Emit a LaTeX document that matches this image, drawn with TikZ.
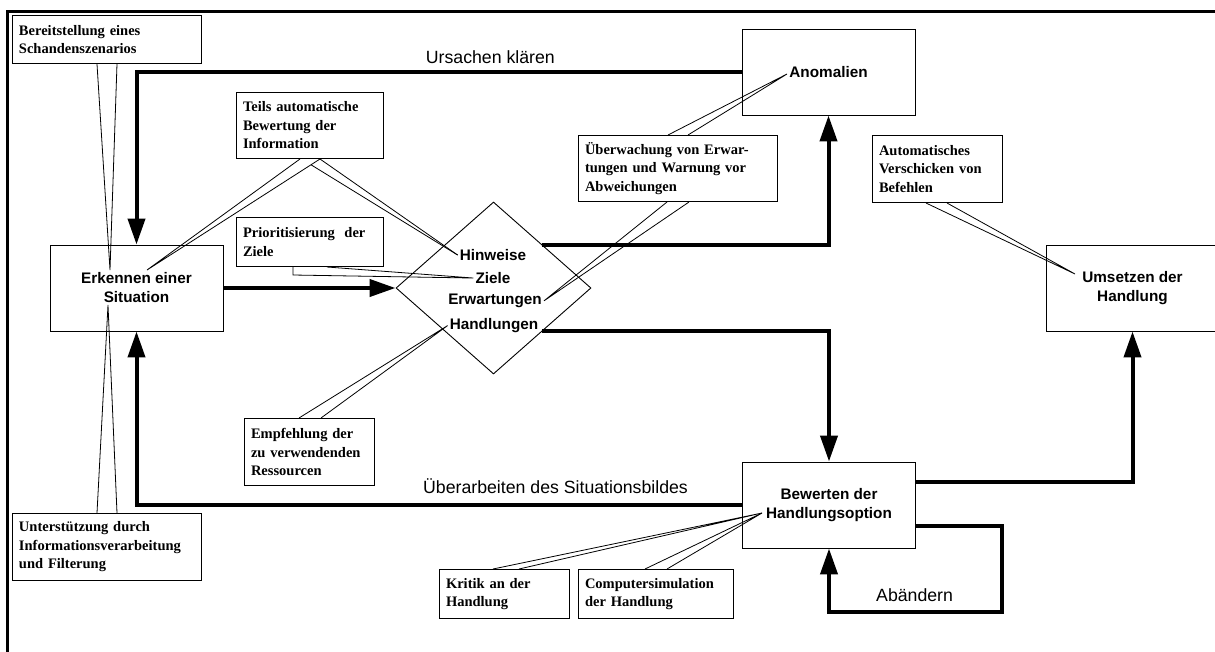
\documentclass[tikz,border=0pt]{standalone}
\usepackage{fontspec}
\setmainfont{Liberation Serif}
\newfontfamily\arialfam{Liberation Sans}
\usetikzlibrary{arrows.meta,shapes.geometric,calc}
% text styles: serif notes, sans stage titles, sans flow labels
\newcommand\clfont{\fontsize{14.5pt}{18.5pt}\selectfont\bfseries\hyphenpenalty=10000\exhyphenpenalty=10000}
\newcommand\bxfont{\arialfam\fontsize{15.3pt}{19pt}\selectfont\bfseries}
\newcommand\lbfont{\arialfam\fontsize{17.7pt}{21pt}\selectfont}
\begin{document}
\begin{tikzpicture}[x=1pt,y=-1pt,
  flow/.style={line width=4pt,-{Triangle[length=26pt,width=17pt]}},
  stage/.style={draw,line width=0.9pt,fill=white,minimum width=173pt,minimum height=86pt,inner sep=0pt,align=center,font=\bxfont},
  note/.style={draw,line width=1pt,fill=white,anchor=north west,inner xsep=6.5pt,inner ysep=0pt,align=left,font=\clfont},
  ptr/.style={line width=0.8pt},
  cue/.style={font=\bxfont,inner sep=2pt,anchor=base},
  flowlabel/.style={font=\lbfont,inner sep=0pt}]
\clip (0,0) rectangle (1215,651);
\fill[white] (0,0) rectangle (1215,651);

% outer frame
\draw[line width=3pt] (7.5,11.5) rectangle (1240,680);

% stages
\node[stage] (erk) at (136.5,288) {Erkennen einer\\Situation};
\node[stage] (ano) at (828.5,72) {Anomalien};
\node[stage] (bew) at (829,505) {Bewerten der\\Handlungsoption};
\node[stage] (ums) at (1132.5,288) {Umsetzen der\\Handlung};
\node[diamond,draw,line width=0.9pt,minimum width=195pt,minimum height=172pt,inner sep=0pt] (dia) at (493.5,288) {};

% contents of the diamond
\node[cue] (hin) at (493,260.5) {Hinweise};
\node[cue] (zie) at (493,283.5) {Ziele};
\node[cue] (erw) at (495,304.5) {Erwartungen};
\node[cue] (hdl) at (494,329.5) {Handlungen};

% flows
\draw[flow] (erk.east) -- (dia.west);
\draw[flow] ($(dia.north)!.5!(dia.east)$) -| (ano.south);
\draw[flow] ($(dia.east)!.5!(dia.south)$) -| (bew.north);
\draw[flow] (ano.west) -| (erk.north);
\draw[flow] (bew.west) -| (erk.south);
\draw[flow] ([yshift=23pt]bew.east) -| (ums.south);
\coordinate (loopcorner) at (1002,612);
\draw[flow] ([yshift=-21pt]bew.east) -| (loopcorner) -| (bew.south);

% flow labels
\node[flowlabel,anchor=base east] (lblUrs) at (555,63) {Ursachen klären};
\node[flowlabel,anchor=base west] (lblUeb) at (423,493) {Überarbeiten des Situationsbildes};
\node[flowlabel,anchor=base west] (lblAb) at (876,601) {Abändern};

% notes
\node[note,text width=176pt,minimum height=48pt] (nBer) at (12,15) {Bereitstellung eines\\Schandenszenarios};
\node[note,text width=134pt,minimum height=66pt] (nTei) at (236,92) {Teils automatische\\Bewertung der\\Information};
\node[note,text width=134pt,minimum height=49pt] (nPri) at (236,217) {Prioritisierung\ \ der\\Ziele};
\node[note,text width=186pt,minimum height=66pt] (nUeb) at (578,135) {Überwachung von Erwar-\\tungen und Warnung vor\\Abweichungen};
\node[note,text width=117pt,minimum height=67pt] (nAut) at (872,135) {Automatisches\\Verschicken von\\Befehlen};
\node[note,text width=117pt,minimum height=67pt] (nEmp) at (244,418) {Empfehlung der\\zu verwendenden\\Ressourcen};
\node[note,text width=176pt,minimum height=67pt] (nUnt) at (12,513) {Unterstützung durch\\Informationsverarbeitung\\und Filterung};
\node[note,text width=117pt,minimum height=49pt] (nKri) at (439,569) {Kritik an der\\Handlung};
\node[note,text width=142pt,minimum height=49pt] (nCom) at (578,569) {Computersimulation\\der Handlung};

% pointer tips inside the stage boxes
\coordinate (tipErkTop) at (110,270);
\coordinate (tipErkTei) at (147,270);
\coordinate (tipErkBot) at (108,305);
\coordinate (tipAno) at (787,74);
\coordinate (tipUms) at (1075,274);
\coordinate (tipBew) at (762,513);

% note pointers
\draw[ptr] ([xshift=85pt]nBer.south west) -- (tipErkTop) -- ([xshift=105pt]nBer.south west);
\draw[ptr] ([xshift=64pt]nTei.south west) -- (tipErkTei) -- ([xshift=84pt]nTei.south west) -- (hin.west);
\draw[ptr] ($([xshift=84pt]nTei.south west)!0.052!(tipErkTei)$) -- (hin.west);
\draw[ptr] ([xshift=57pt]nPri.south west) -- ++(0,8) -- (zie.west) -- ([xshift=91pt]nPri.south west);
\draw[ptr] ([xshift=90pt]nUeb.north west) -- (tipAno) -- ([xshift=110pt]nUeb.north west);
\draw[ptr] ([xshift=89pt]nUeb.south west) -- (erw.east) -- ([xshift=111pt]nUeb.south west);
\draw[ptr] ([xshift=54pt]nAut.south west) -- (tipUms) -- ([xshift=75pt]nAut.south west);
\draw[ptr] ([xshift=55pt]nEmp.north west) -- (hdl.west) -- ([xshift=77pt]nEmp.north west);
\draw[ptr] ([xshift=85pt]nUnt.north west) -- (tipErkBot) -- ([xshift=105pt]nUnt.north west);
\draw[ptr] ([xshift=54pt]nKri.north west) -- (tipBew) -- ([xshift=80pt]nKri.north west);
\draw[ptr] ([xshift=67pt]nCom.north west) -- (tipBew) -- ([xshift=89pt]nCom.north west);
\end{tikzpicture}
\end{document}
